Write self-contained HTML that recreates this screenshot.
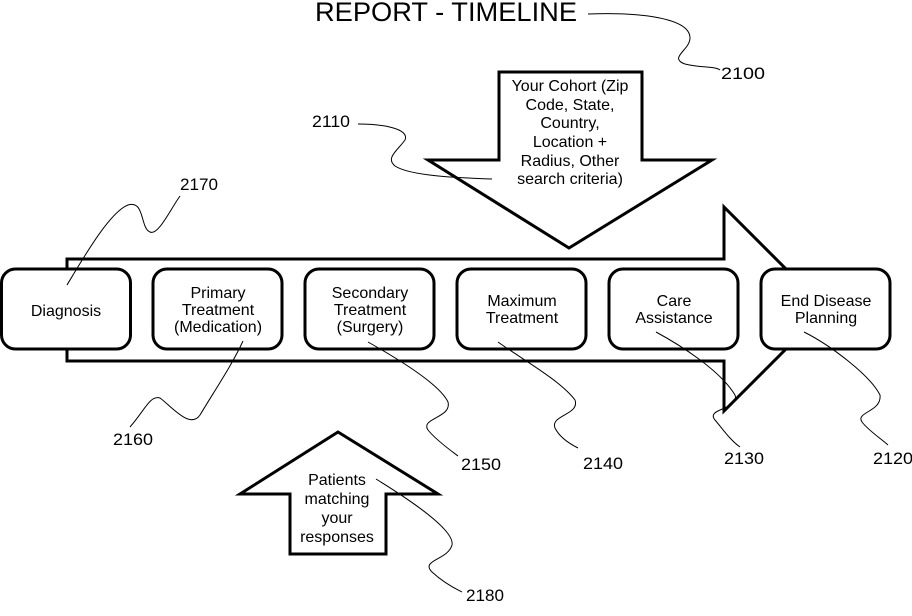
<!DOCTYPE html>
<html><head><meta charset="utf-8"><style>
html,body{margin:0;padding:0;background:#fff;}
svg{display:block;font-family:"Liberation Sans",Arial,sans-serif;}
</style></head><body>
<svg width="912" height="616" viewBox="0 0 912 616" xmlns="http://www.w3.org/2000/svg">
<rect width="912" height="616" fill="#fff"/>
<text x="315" y="21" font-size="27" fill="#000" textLength="262" lengthAdjust="spacingAndGlyphs">REPORT - TIMELINE</text>
<path d="M588,14 C640,12 690,18 690,38 C690,50 668,58 685,64 C700,68 715,66 720,70" fill="none" stroke="#000" stroke-width="1"/>
<text x="721" y="79" font-size="17" textLength="44" lengthAdjust="spacingAndGlyphs">2100</text>

<polygon points="67,259 724,259 724,207 826,309 724,411 724,361 67,361" fill="#fff" stroke="#000" stroke-width="3" stroke-linejoin="miter"/>

<polygon points="499,72 642,72 642,160 712,160 569,248 428,160 499,160" fill="#fff" stroke="#000" stroke-width="3"/>
<g font-size="16" text-anchor="middle">
<text x="570" y="91">Your Cohort (Zip</text>
<text x="570" y="110">Code, State,</text>
<text x="570" y="128">Country,</text>
<text x="570" y="147">Location +</text>
<text x="570" y="166">Radius, Other</text>
<text x="570" y="184">search criteria)</text>
</g>
<text x="312" y="127" font-size="17" textLength="38" lengthAdjust="spacingAndGlyphs">2110</text>
<path d="M358,124 C380,124 410,128 405,140 C398,150 385,158 395,166 C410,176 460,178 492,179" fill="none" stroke="#000" stroke-width="1"/>

<polygon points="338,432 438,494 386,494 386,554 290,554 290,494 240,494" fill="#fff" stroke="#000" stroke-width="3"/>
<g font-size="16" text-anchor="middle">
<text x="337" y="485">Patients</text>
<text x="337" y="504">matching</text>
<text x="337" y="523">your</text>
<text x="337" y="542">responses</text>
</g>
<path d="M376,479 C410,500 455,530 452,545 C448,560 420,560 432,572 C445,584 458,590 462,592" fill="none" stroke="#000" stroke-width="1"/>
<text x="466" y="601" font-size="17" textLength="38" lengthAdjust="spacingAndGlyphs">2180</text>

<g fill="#fff" stroke="#000" stroke-width="3">
<rect x="1.5" y="269" width="129" height="80" rx="14"/>
<rect x="153" y="269" width="129" height="80" rx="14"/>
<rect x="305" y="269" width="129" height="80" rx="14"/>
<rect x="457" y="269" width="129" height="80" rx="14"/>
<rect x="609" y="269" width="129" height="80" rx="14"/>
<rect x="761" y="269" width="129" height="80" rx="14"/>
</g>
<g font-size="16" text-anchor="middle">
<text x="66" y="316">Diagnosis</text>
<text x="218" y="298">Primary</text>
<text x="218" y="315">Treatment</text>
<text x="218" y="332">(Medication)</text>
<text x="370" y="298">Secondary</text>
<text x="370" y="315">Treatment</text>
<text x="370" y="332">(Surgery)</text>
<text x="522" y="306">Maximum</text>
<text x="522" y="323">Treatment</text>
<text x="674" y="306">Care</text>
<text x="674" y="323">Assistance</text>
<text x="826" y="306">End Disease</text>
<text x="826" y="323">Planning</text>
</g>

<g fill="none" stroke="#000" stroke-width="1">
<path d="M67,285 C85,255 110,212 128,205 C145,200 140,228 150,232 C158,236 170,210 180,196"/>
<path d="M243,341 C232,365 215,390 200,415 C190,430 170,405 160,398 C150,395 145,410 130,427"/>
<path d="M368,342 C400,360 440,385 448,402 C452,418 420,418 428,430 C436,440 450,450 458,456"/>
<path d="M498,342 C520,358 560,380 575,400 C580,415 550,415 555,428 C560,438 570,444 578,448"/>
<path d="M656,332 C680,345 720,370 735,395 C740,410 705,408 715,420 C722,428 730,440 740,447"/>
<path d="M804,332 C830,345 870,375 880,395 C882,412 855,412 862,422 C868,430 880,438 888,445"/>
</g>
<g font-size="17">
<text x="180" y="190" textLength="38" lengthAdjust="spacingAndGlyphs">2170</text>
<text x="113" y="445" textLength="40" lengthAdjust="spacingAndGlyphs">2160</text>
<text x="461" y="470" textLength="40" lengthAdjust="spacingAndGlyphs">2150</text>
<text x="583" y="469" textLength="40" lengthAdjust="spacingAndGlyphs">2140</text>
<text x="724" y="464" textLength="40" lengthAdjust="spacingAndGlyphs">2130</text>
<text x="873" y="464" textLength="40" lengthAdjust="spacingAndGlyphs">2120</text>
</g>
</svg>
</body></html>
